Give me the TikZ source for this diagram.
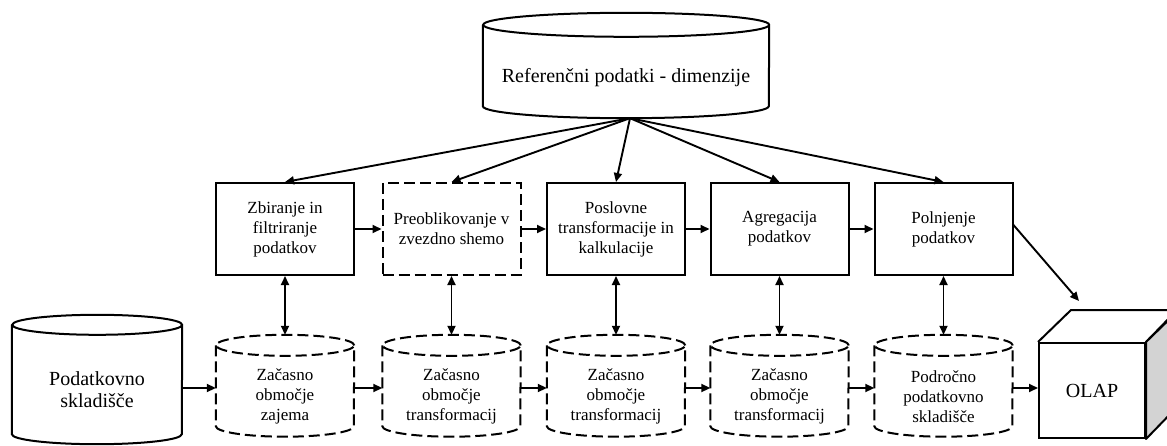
\documentclass[tikz,border=0pt]{standalone}
\usepackage{fontspec}
\setmainfont{Liberation Serif}
\usetikzlibrary{arrows.meta}

\definecolor{cubeside}{HTML}{D3D3D3}

% Outline of an upright cylinder around node #2 (x radius #3, y radius #4);
% the node covers the body shifted down by the y radius, so its text sits
% below the front rim of the top ellipse.
\newcommand\drawcyl[4][]{%
  \draw[outline,#1] ([yshift=#4pt]#2.north west) -- ([yshift=#4pt]#2.south west)
    arc[start angle=180,end angle=360,x radius=#3pt,y radius=#4pt]
    -- ([yshift=#4pt]#2.north east)
    arc[start angle=0,end angle=360,x radius=#3pt,y radius=#4pt];%
}

\begin{document}
\begin{tikzpicture}[x=1pt,y=1pt,
  every node/.style={inner sep=0pt, align=center},
  lbl/.style={font=\fontsize{17}{20}\selectfont},
  big/.style={font=\fontsize{20}{22}\selectfont},
  outline/.style={line width=2pt},
  dashline/.style={dash pattern=on 11pt off 5pt},
  proc/.style={draw, outline, minimum width=138pt, minimum height=92pt, lbl},
  stage/.style={minimum width=138pt, minimum height=80.5pt, lbl},
  tip/.tip={Triangle[length=9pt,width=8pt]},
  arr/.style={-tip, line width=1.9pt},
  dbl/.style={tip-tip, line width=1.9pt},
]
\useasboundingbox (0,0) rectangle (1167,445);
\clip (0,0) rectangle (1167,445);

% reference data store
\node[big, minimum width=286pt, minimum height=81pt] (ref) at (626,367.5)
  {Referenčni podatki - dimenzije};
\drawcyl{ref}{143}{12}

% processing steps
\node[proc] (b1) at (285,216)   {Zbiranje in\\filtriranje\\podatkov};
\node[proc, dashline] (b2) at (451.5,216) {Preoblikovanje v\\zvezdno shemo};
\node[proc] (b3) at (616,216)   {Poslovne\\transformacije in\\kalkulacije};
\node[proc] (b4) at (779.5,216) {Agregacija\\podatkov};
\node[proc] (b5) at (943.5,216) {Polnjenje\\podatkov};

% source warehouse
\node[big, minimum width=170pt, minimum height=109pt] (sk) at (97,55.5)
  {Podatkovno\\skladišče};
\drawcyl{sk}{85}{10}

% staging areas
\node[stage] (c1) at (285,48.75)   {Začasno\\območje\\zajema};
\node[stage] (c2) at (451.5,48.75) {Začasno\\območje\\transformacij};
\node[stage] (c3) at (616,48.75)   {Začasno\\območje\\transformacij};
\node[stage] (c4) at (779.5,48.75) {Začasno\\območje\\transformacij};
\node[stage] (c5) at (943.5,48.75) {Področno\\podatkovno\\skladišče};
\foreach \c in {c1,c2,c3,c4,c5}{\drawcyl[dashline]{\c}{69}{10.5}}

% OLAP cube
\node[draw, outline, fill=white, big, minimum width=106pt, minimum height=95pt]
  (olap) at (1092,54.5) {OLAP};
\draw[outline, line join=round] (olap.north west) -- ++(33,32) -- ++(106,0) -- (olap.north east);
\draw[outline, line join=round, fill=cubeside] (olap.north east) -- ++(33,32) -- ++(0,-95)
  -- (olap.south east) -- cycle;

% connectors from the dimension store
\coordinate (hub) at ([xshift=4pt]ref.south);
\foreach \b in {b1,b2,b3,b4,b5}{\draw[arr] (hub) -- (\b.north);}

% flow between steps
\draw[arr] (b1.east) -- (b2.west);
\draw[arr] (b2.east) -- (b3.west);
\draw[arr] (b3.east) -- (b4.west);
\draw[arr] (b4.east) -- (b5.west);

% steps <-> staging areas
\foreach \b/\c in {b1/c1,b2/c2,b3/c3,b4/c4,b5/c5}{\draw[dbl] (\b.south) -- ([yshift=21pt]\c.north);}

% flow between stores
\coordinate (row) at (0,57);
\draw[arr] (sk.east |- row) -- (c1.west |- row);
\draw[arr] (c1.east |- row) -- (c2.west |- row);
\draw[arr] (c2.east |- row) -- (c3.west |- row);
\draw[arr] (c3.east |- row) -- (c4.west |- row);
\draw[arr] (c4.east |- row) -- (c5.west |- row);
\draw[arr] (c5.east |- row) -- (olap.west |- row);

% loading into OLAP
\draw[arr] ([yshift=4pt]b5.east) -- ([shift={(41,41)}]olap.north west);
\end{tikzpicture}
\end{document}
